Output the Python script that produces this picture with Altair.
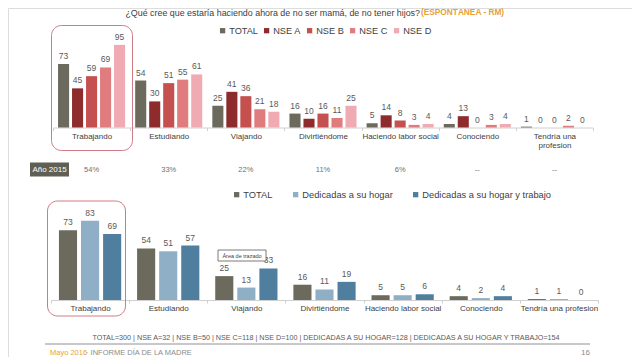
import altair as alt
import pandas as pd

# ---------------- data ----------------
cats = ["Trabajando", "Estudiando", "Viajando", "Divirtiéndome",
        "Haciendo labor social", "Conociendo", "Tendría una profesion"]

top_series = ["TOTAL", "NSE A", "NSE B", "NSE C", "NSE D"]
top_colors = ["#6B6A5D", "#8E2B2D", "#C4504F", "#E07B7E", "#F0AAB2"]
top_total = [73, 54, 25, 16, 5, 4, 1]
nse_a = [45, 30, 41, 10, 14, 13, 0]
nse_b = [59, 51, 36, 16, 8, 0, 0]
nse_c = [69, 55, 21, 11, 3, 3, 2]
nse_d = [95, 61, 18, 25, 4, 4, 0]

bot_series = ["TOTAL", "Dedicadas a su hogar", "Dedicadas a su hogar y trabajo"]
bot_colors = ["#6B6A5D", "#8EAFC6", "#4F7E9E"]
bot_total = [73, 54, 25, 16, 5, 4, 1]
hogar = [83, 51, 13, 11, 5, 2, 1]
hogar_trabajo = [69, 57, 33, 19, 6, 4, 0]

anio_2015 = ["54%", "33%", "22%", "11%", "6%", "--", "--"]

title_main = "¿Qué cree que estaría haciendo ahora de no ser mamá, de no tener hijos? "
title_tag = "(ESPONTÁNEA - RM)"
footnote = ("TOTAL=300  |  NSE A=32  |  NSE B=50  |  NSE C=118  |  NSE D=100  |  "
            "DEDICADAS A SU HOGAR=128  |  DEDICADAS A SU HOGAR Y TRABAJO=154")

FONT = "Liberation Sans"
W, H = 624, 349


def P(v):
    """screen pixel -> chart pixel (page margin 8px)"""
    return v - 8


top_rows = []
for s, vals in zip(top_series, [top_total, nse_a, nse_b, nse_c, nse_d]):
    for c, v in zip(cats, vals):
        top_rows.append({"cat": c, "serie": s, "valor": v})
df_top = pd.DataFrame(top_rows)

bot_rows = []
for s, vals in zip(bot_series, [bot_total, hogar, hogar_trabajo]):
    for c, v in zip(cats, vals):
        bot_rows.append({"cat": c, "serie": s, "valor": v})
df_bot = pd.DataFrame(bot_rows)

df_2015 = pd.DataFrame({"cat": cats, "txt": anio_2015})
one = pd.DataFrame({"k": [0]})

# ---------------- top chart ----------------
x_top = alt.X("cat:N", sort=cats,
              scale=alt.Scale(domain=cats, range=[P(53), P(593)], paddingInner=0, paddingOuter=0),
              axis=alt.Axis(title=None, orient="bottom", offset=P(127.5) - H,
                            domainColor="#D0D0D0", tickColor="#D0D0D0", tickSize=3,
                            tickBand="extent", labelAngle=0, labelFontSize=8,
                            labelColor="#404040", labelPadding=2, labelLineHeight=9,
                            labelFont=FONT,
                            labelExpr="datum.label == 'Tendría una profesion' ? ['Tendría una', 'profesion'] : datum.label"))
xo_top = alt.XOffset("serie:N", sort=top_series,
                     scale=alt.Scale(domain=top_series, paddingInner=0.21, paddingOuter=0.36))
y_top = alt.Y("valor:Q", scale=alt.Scale(domain=[0, 100], range=[P(127.5), P(40.5)]), axis=None)

top_bars = alt.Chart(df_top).mark_bar().encode(
    x=x_top, xOffset=xo_top, y=y_top,
    color=alt.Color("serie:N", sort=top_series,
                    scale=alt.Scale(domain=top_series, range=top_colors),
                    legend=alt.Legend(title=None, orient="none", legendX=P(218), legendY=P(26),
                                      direction="horizontal", symbolType="square", symbolSize=28,
                                      symbolStrokeWidth=0, labelFontSize=9.2, labelColor="#404040",
                                      labelFont=FONT, columnPadding=4, labelOffset=2, padding=0)),
)
top_vals = alt.Chart(df_top).mark_text(baseline="bottom", dy=-3, fontSize=8.5,
                                       color="#595959", font=FONT).encode(
    x=x_top, xOffset=xo_top, y=y_top, text="valor:Q")
top_2015 = alt.Chart(df_2015).mark_text(fontSize=7.5, color="#6F6F6F", font=FONT).encode(
    x=x_top, y=alt.value(P(169.5)), text="txt:N")
top = alt.layer(top_bars, top_vals, top_2015)

# ---------------- bottom chart ----------------
x_bot = alt.X("cat:N", sort=cats,
              scale=alt.Scale(domain=cats, range=[P(51), P(598)], paddingInner=0, paddingOuter=0),
              axis=alt.Axis(title=None, orient="bottom", offset=P(300) - H,
                            domainColor="#D0D0D0", tickColor="#D0D0D0", tickSize=3,
                            tickBand="extent", labelAngle=0, labelFontSize=8,
                            labelColor="#404040", labelPadding=1.5, labelFont=FONT))
xo_bot = alt.XOffset("serie:N", sort=bot_series,
                     scale=alt.Scale(domain=bot_series, paddingInner=0.18, paddingOuter=0.36))
y_bot = alt.Y("valor:Q", scale=alt.Scale(domain=[0, 100], range=[P(300), P(204.5)]), axis=None)

bot_bars = alt.Chart(df_bot).mark_bar().encode(
    x=x_bot, xOffset=xo_bot, y=y_bot,
    color=alt.Color("serie:N", sort=bot_series,
                    scale=alt.Scale(domain=bot_series, range=bot_colors),
                    legend=alt.Legend(title=None, orient="none", legendX=P(232), legendY=P(190),
                                      direction="horizontal", symbolType="square", symbolSize=28,
                                      symbolStrokeWidth=0, labelFontSize=9.3, labelColor="#404040",
                                      labelFont=FONT, columnPadding=18, labelOffset=2, padding=0)),
)
bot_vals = alt.Chart(df_bot).mark_text(baseline="bottom", dy=-3, fontSize=8.5,
                                       color="#595959", font=FONT).encode(
    x=x_bot, xOffset=xo_bot, y=y_bot, text="valor:Q")
bottom = alt.layer(bot_bars, bot_vals)

# ---------------- annotations ----------------
def txt(text, x, y, size, color, align="left", weight="normal"):
    return alt.Chart(one).mark_text(text=text, align=align, baseline="middle", fontSize=size,
                                    color=color, font=FONT, fontWeight=weight).encode(
        x=alt.value(P(x)), y=alt.value(P(y)))


def box(x1, x2, y1, y2, **kw):
    return alt.Chart(one).mark_rect(**kw).encode(
        x=alt.value(P(x1)), x2=alt.value(P(x2)), y=alt.value(P(y1)), y2=alt.value(P(y2)))


annotations = [
    txt(title_main, 420, 13, 8.9, "#404040", align="right"),
    txt(title_tag, 421, 13, 8.3, "#E8A035", align="left", weight="bold"),
    box(51.5, 132.5, 25.5, 150.5, cornerRadius=10, fillOpacity=0, stroke="#D07A86", strokeWidth=1),
    box(47.5, 125.5, 201, 316, cornerRadius=10, fillOpacity=0, stroke="#D07A86", strokeWidth=1),
    box(30, 69, 162.5, 176.5, color="#5F5F55"),
    txt("Año 2015", 49.5, 169.5, 8, "#FFFFFF", align="center"),
    box(218, 266, 250, 261, fill="#FFFFFF", stroke="#595959", strokeWidth=0.8),
    txt("Área de trazado", 242, 255.5, 5.5, "#404040", align="center"),
    txt(footnote, 326, 337.5, 7.2, "#595959", align="center"),
    alt.Chart(one).mark_rule(color="#C8C8C8", strokeWidth=2).encode(
        x=alt.value(P(45)), x2=alt.value(P(590)), y=alt.value(P(344))),
    txt("Mayo 2016", 50, 352.5, 7.5, "#E8A035"),
    txt("·  INFORME DÍA DE LA MADRE", 86, 352.5, 7.5, "#8C8C8C"),
    txt("16", 590, 352.5, 8, "#8C8C8C", align="right"),
]

chart = alt.layer(top, bottom, *annotations).resolve_scale(
    x="independent", y="independent", xOffset="independent", color="independent"
).resolve_axis(x="independent").resolve_legend(color="independent").properties(
    width=W, height=H, autosize=alt.AutoSizeParams(type="none"), padding=0
).configure_view(stroke=None).configure(background="#FFFFFF")

chart.save("out.html", embed_options={"renderer": "svg", "actions": False})
